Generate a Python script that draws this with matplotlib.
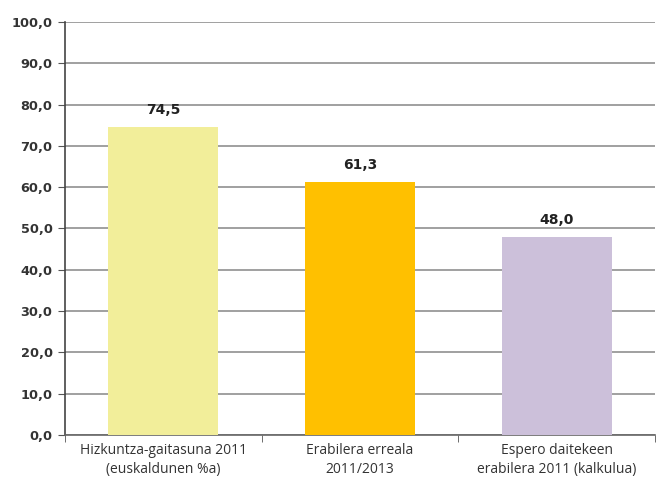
import matplotlib.pyplot as plt
import numpy as np

categories = ["Hizkuntza-gaitasuna 2011\n(euskaldunen %a)",
              "Erabilera erreala\n2011/2013",
              "Espero daitekeen\nerabilera 2011 (kalkulua)"]
values = [74.5, 61.3, 48.0]
colors = ["#f2ee9a", "#ffc000", "#ccc0da"]

fig = plt.figure(figsize=(6.57, 4.82), dpi=100)
ax = fig.add_axes([0.099, 0.0975, 0.898, 0.857])

x = np.arange(len(values))
bars = ax.bar(x, values, width=0.56, color=colors, zorder=3)

# value labels above each bar
for xi, v in zip(x, values):
    ax.text(xi, v + 2.4, f"{v:.1f}".replace(".", ","), ha="center", va="bottom",
            fontsize=10, fontweight="bold", color="#222222", zorder=4)

ax.set_ylim(0, 100)
ax.set_xlim(-0.5, 2.5)
yt = np.arange(0, 101, 10)
ax.set_yticks(yt)
ax.set_yticklabels([f"{t:.1f}".replace(".", ",") for t in yt],
                   fontsize=9.3, fontweight="bold", color="#333333")
ax.yaxis.grid(True, color="#a0a0a0", linewidth=1.4, zorder=0)
ax.set_axisbelow(True)

ax.set_xticks(x)
ax.set_xticklabels(categories, fontsize=10, family="Open Sans", color="#333333",
                   linespacing=1.3)
ax.set_xticks([-0.5, 0.5, 1.5, 2.5], minor=True)
ax.tick_params(axis="x", which="major", length=0, pad=6)
ax.tick_params(axis="x", which="minor", length=5, color="#555555")
ax.tick_params(axis="y", length=5, color="#555555", pad=4)

for s in ["top", "right"]:
    ax.spines[s].set_visible(False)
ax.spines["left"].set_color("#444444")
ax.spines["left"].set_linewidth(1.2)
ax.spines["bottom"].set_color("#666666")
ax.spines["bottom"].set_linewidth(1.2)

fig.savefig("out.png", dpi=100)
